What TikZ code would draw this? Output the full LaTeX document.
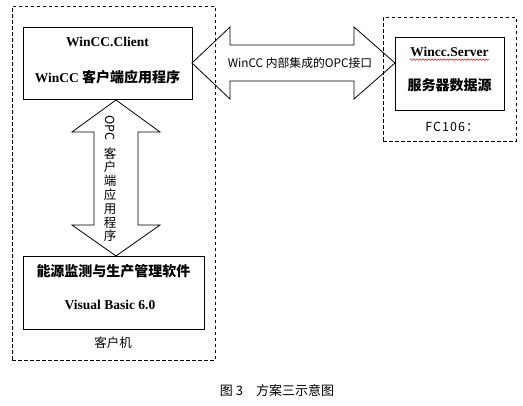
\documentclass[tikz,border=0pt]{standalone}
\usepackage{fontspec}
\setmainfont{Liberation Serif}
\newfontfamily\cjk{Noto Sans CJK SC}
\usetikzlibrary{decorations.pathmorphing}
\def\bigfont{\fontsize{13.5}{15}\selectfont}
\def\cjkfont{\fontsize{14}{16}\selectfont}
\def\smallfont{\fontsize{11.8}{13}\selectfont}

\begin{document}
\begin{tikzpicture}[x=1pt,y=-1pt,line width=0.8pt]
\tikzset{box/.style={draw,inner sep=0pt},
  frame/.style={draw,inner sep=0pt,dash pattern=on 3.5pt off 2.5pt},
  title/.style={font=\bfseries\bigfont,inner sep=0pt},
  cntitle/.style={font=\cjk\bfseries\cjkfont,inner sep=0pt},
  note/.style={font=\cjk\fontsize{12.5}{14}\selectfont,inner sep=0pt}}
\useasboundingbox (0,0) rectangle (523,405);
% dashed frames
\node[frame,minimum width=203,minimum height=354] (pc) at (113.5,183) {};
\node[frame,minimum width=133,minimum height=124] (srv) at (449.5,79) {};
% boxes
\node[box,minimum width=169,minimum height=72] (client) at (107.5,63) {};
\node[box,minimum width=109,minimum height=73] (server) at (449.5,73.5) {};
\node[box,minimum width=181,minimum height=73] (soft) at (113.5,292.5) {};
% texts in the boxes
\node[title] (clientA) at (107.5,42) {WinCC.Client};
\node[title] (clientB) at (107.5,77) {WinCC {\cjk\cjkfont 客户端应用程序}};
\node[title] (serverA) at (449.5,52) {Wincc.Server};
\node[cntitle] (serverB) at (449.5,85) {服务器数据源};
\node[cntitle] (softA) at (113.5,271) {能源监测与生产管理软件};
\node[title] (softB) at (110,305) {Visual Basic 6.0};
\draw[red,line width=0.5pt,decorate,decoration={snake,amplitude=0.8pt,segment length=3pt}]
  ([yshift=-3pt]serverA.base west) -- ([yshift=-3pt]serverA.base east);
% frame labels
\node[note] (pclabel) at (113,343) {客户机};
\node[note,font=\cjk\fontsize{12.5}{14}\selectfont\addfontfeature{LetterSpace=8}] (srvlabel) at (452,127) {FC106：};
% block arrow between client and server
\coordinate (hl) at (192,63);
\coordinate (hr) at (395,63);
\draw (hl) -- ++(38,-36) -- ++(0,18) -- ++(124,0) -- ++(0,-18) -- (hr)
  -- ++(-41,36) -- ++(0,-18) -- ++(-124,0) -- ++(0,18) -- cycle;
\node[font=\cjk\smallfont,inner sep=0pt] (opc) at (300,63) {WinCC 内部集成的OPC接口};
% block arrow between client and software
\coordinate (vt) at (116,100);
\coordinate (vb) at (116,256);
\draw (vt) -- ++(44,32) -- ++(-22,0) -- ++(0,93) -- ++(22,0) -- (vb)
  -- ++(-44,-31) -- ++(22,0) -- ++(0,-93) -- ++(-22,0) -- cycle;
\node[font=\cjk\fontsize{12.5}{13.8}\selectfont,align=center,inner sep=0pt,anchor=north] (opcclient) at (110,115)
  {\rotatebox{-90}{OPC}\\[6pt]客\\户\\端\\应\\用\\程\\序};
% caption
\node[note,font=\cjk\fontsize{13}{15}\selectfont] (caption) at (277,391) {图 3\quad 方案三示意图};
\end{tikzpicture}
\end{document}
